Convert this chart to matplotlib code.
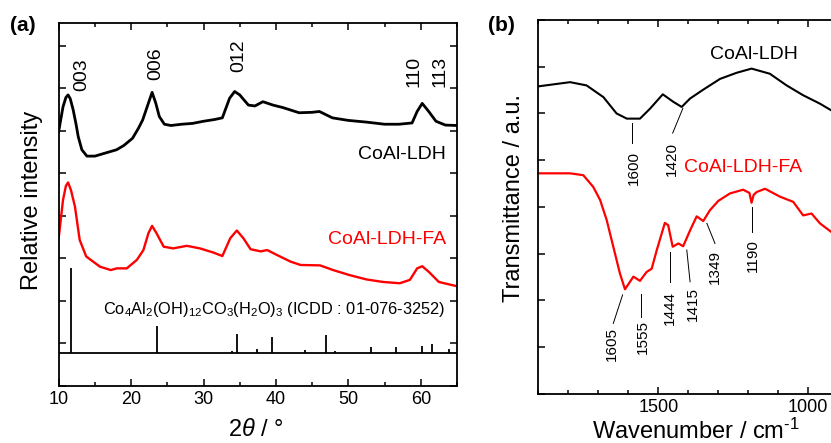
import matplotlib
matplotlib.use("Agg")
import matplotlib.pyplot as plt
from matplotlib.ticker import MultipleLocator

plt.rcParams['font.family'] = ['Liberation Sans', 'DejaVu Sans']
plt.rcParams['mathtext.fontset'] = 'custom'
plt.rcParams['mathtext.rm'] = 'Liberation Sans'
plt.rcParams['mathtext.it'] = 'Liberation Sans:italic'

# (a) XRD patterns
two_theta_ldh = [10.0, 10.6, 11.0, 11.3, 11.6, 12.0, 12.4, 12.7, 13.2, 13.9, 15.0, 16.0, 17.0,
                 18.0, 19.0, 20.2, 21.0, 21.6, 22.2, 22.9, 23.4, 23.9, 24.6, 25.5, 27.0, 28.5,
                 30.0, 31.5, 32.6, 33.6, 34.3, 35.0, 36.2, 37.1, 38.2, 39.6, 41.0, 43.2, 45.0,
                 46.0, 47.8, 50.0, 52.5, 55.0, 57.0, 58.8, 59.5, 60.2, 61.1, 62.1, 63.4, 65.0]
int_ldh = [5.98, 6.56, 6.78, 6.84, 6.75, 6.49, 6.15, 5.86, 5.55, 5.40, 5.40, 5.45, 5.50,
           5.55, 5.65, 5.82, 6.05, 6.25, 6.55, 6.90, 6.65, 6.33, 6.15, 6.12, 6.15, 6.17,
           6.22, 6.26, 6.30, 6.76, 6.92, 6.84, 6.60, 6.58, 6.68, 6.60, 6.54, 6.42, 6.43,
           6.45, 6.30, 6.24, 6.20, 6.15, 6.15, 6.18, 6.45, 6.64, 6.45, 6.22, 6.13, 6.12]

two_theta_fa = [10.0, 10.6, 11.0, 11.3, 11.7, 12.25, 12.9, 13.8, 15.7, 17.2, 18.0, 19.4, 20.8,
                21.7, 22.4, 22.9, 23.5, 24.5, 25.8, 27.7, 29.5, 31.4, 32.6, 33.7, 34.6, 35.5,
                36.5, 37.9, 38.8, 40.2, 42.0, 43.4, 46.1, 47.9, 50.2, 52.5, 54.8, 57.1, 58.5,
                59.5, 60.2, 61.1, 62.5, 65.0]
int_fa = [3.47, 4.37, 4.70, 4.78, 4.60, 4.21, 3.43, 3.04, 2.80, 2.72, 2.76, 2.76, 2.96,
          3.19, 3.59, 3.76, 3.59, 3.27, 3.23, 3.29, 3.23, 3.13, 3.05, 3.47, 3.65, 3.47,
          3.21, 3.16, 3.19, 3.07, 2.92, 2.84, 2.83, 2.72, 2.60, 2.50, 2.44, 2.41, 2.49,
          2.76, 2.81, 2.68, 2.44, 2.34]

# ICDD 01-076-3252 reference lines
ref_pos = [11.7, 23.6, 33.9, 34.6, 37.4, 39.4, 44.0, 46.9, 48.2, 53.1, 56.6, 60.2, 61.6, 63.9]
ref_height = [2.0, 0.63, 0.03, 0.43, 0.09, 0.37, 0.05, 0.41, 0.04, 0.13, 0.13, 0.16, 0.20, 0.08]
ref_base = 0.78

hkl_labels = ['003', '006', '012', '110', '113']
hkl_pos = [(13.17, 6.92), (23.36, 7.19), (34.88, 7.39), (59.08, 7.02), (62.6, 7.02)]

# (b) FTIR spectra
wn_ldh = [1900, 1794, 1739, 1683, 1639, 1605, 1561, 1528, 1485, 1450, 1422, 1394, 1350,
          1294, 1239, 1189, 1128, 1072, 1017, 961, 924, 900]
tr_ldh = [6.58, 6.67, 6.60, 6.35, 6.00, 5.89, 5.89, 6.10, 6.41, 6.25, 6.14, 6.32, 6.51,
          6.74, 6.87, 6.96, 6.85, 6.60, 6.39, 6.21, 6.07, 6.00]

wn_fa = [1900, 1794, 1750, 1717, 1694, 1672, 1650, 1628, 1611, 1583, 1561, 1539, 1522,
         1505, 1478, 1467, 1452, 1433, 1417, 1394, 1372, 1350, 1328, 1300, 1261, 1217,
         1196, 1189, 1182, 1172, 1144, 1094, 1050, 1017, 989, 961, 924, 900]
tr_fa = [4.72, 4.72, 4.68, 4.43, 4.15, 3.72, 3.15, 2.58, 2.24, 2.51, 2.42, 2.61, 2.68,
         3.08, 3.66, 3.61, 3.15, 3.22, 3.16, 3.50, 3.80, 3.70, 3.93, 4.13, 4.29, 4.37,
         4.30, 4.09, 4.26, 4.32, 4.39, 4.22, 4.11, 3.82, 3.86, 3.65, 3.47, 3.35]

# peak labels: text, text position, leader line start, leader line end
ir_labels = ['1600', '1420', '1605', '1555', '1444', '1415', '1349', '1190']
ir_text_pos = [(1583, 4.83), (1455, 5.03), (1655, 1.07), (1550, 1.21), (1461, 1.85),
               (1383, 1.93), (1311, 2.71), (1185, 2.96)]
ir_line_from = [(1589, 5.79), (1418, 6.11), (1619, 2.12), (1559, 2.14), (1461, 3.04),
                (1405, 3.08), (1338, 3.65), (1188, 4.00)]
ir_line_to = [(1589, 5.36), (1452, 5.58), (1650, 1.51), (1559, 1.65), (1461, 2.40),
              (1394, 2.40), (1311, 3.22), (1188, 3.47)]


def style_axes(ax):
    for s in ax.spines.values():
        s.set_linewidth(1.3)
    ax.tick_params(which='both', direction='in', top=True, right=True, width=1.1,
                   labelsize=13)
    ax.tick_params(which='major', length=5)
    ax.tick_params(which='minor', length=3)
    ax.tick_params(axis='y', which='major', labelleft=False)


fig = plt.figure(figsize=(8.31, 4.43), dpi=100)

# --- (a) XRD ---
ax1 = fig.add_axes([0.0706, 0.1293, 0.4793, 0.8187])
ax1.plot(two_theta_ldh, int_ldh, color='black', lw=2.0)
ax1.plot(two_theta_fa, int_fa, color='#ff0000', lw=1.7)
ax1.vlines(ref_pos, ref_base, [ref_base + h for h in ref_height], color='black', lw=1.3)
ax1.axhline(ref_base, color='black', lw=1.3)

for lab, (x, y) in zip(hkl_labels, hkl_pos):
    ax1.text(x, y, lab, rotation=90, ha='center', va='bottom', fontsize=14)

ax1.text(63.44, 5.43, 'CoAl-LDH', ha='right', va='center', fontsize=14)
ax1.text(63.44, 3.43, 'CoAl-LDH-FA', ha='right', va='center', fontsize=14, color='#ff0000')
ax1.text(63.35, 1.80, r'Co$_4$Al$_2$(OH)$_{12}$CO$_3$(H$_2$O)$_3$ (ICDD : 01-076-3252)',
         ha='right', va='center', fontsize=11.8)

ax1.set_xlim(10, 65)
ax1.set_ylim(0, 8.53)
ax1.xaxis.set_major_locator(MultipleLocator(10))
ax1.xaxis.set_minor_locator(MultipleLocator(5))
ax1.yaxis.set_major_locator(MultipleLocator(1))
style_axes(ax1)
ax1.set_xlabel(r'2$\theta$ / °', fontsize=17)
ax1.set_ylabel('Relative intensity', fontsize=17)
ax1.xaxis.set_label_coords(0.495, -0.093)
ax1.yaxis.set_label_coords(-0.040, 0.512)
fig.text(0.027, 0.943, '(a)', fontsize=15, fontweight='bold', ha='center', va='center')

# --- (b) FTIR ---
ax2 = fig.add_axes([0.6478, 0.1106, 0.3609, 0.8443])
ax2.plot(wn_ldh, tr_ldh, color='black', lw=1.5)
ax2.plot(wn_fa, tr_fa, color='#ff0000', lw=1.6)

for lab, (tx, ty), (x0, y0), (x1, y1) in zip(ir_labels, ir_text_pos, ir_line_from, ir_line_to):
    ax2.plot([x0, x1], [y0, y1], color='black', lw=0.7)
    ax2.text(tx, ty, lab, rotation=90, ha='center', va='center', fontsize=11)

ax2.text(1035, 7.26, 'CoAl-LDH', ha='right', va='center', fontsize=14)
ax2.text(1022, 4.84, 'CoAl-LDH-FA', ha='right', va='center', fontsize=14, color='#ff0000')

ax2.set_xlim(1900, 900)
ax2.set_ylim(0, 8)
ax2.xaxis.set_major_locator(MultipleLocator(500))
ax2.xaxis.set_minor_locator(MultipleLocator(100))
ax2.yaxis.set_major_locator(MultipleLocator(1))
style_axes(ax2)
ax2.set_xlabel('Wavenumber / cm$^{\u20101}$', fontsize=17)
ax2.set_ylabel('Transmittance / a.u.', fontsize=17)
ax2.xaxis.set_label_coords(0.527, -0.065)
ax2.yaxis.set_label_coords(-0.045, 0.523)
fig.text(0.603, 0.943, '(b)', fontsize=15, fontweight='bold', ha='center', va='center')

fig.savefig('out.png', dpi=100)
